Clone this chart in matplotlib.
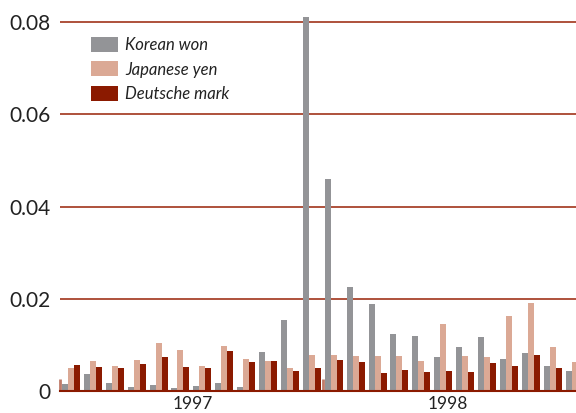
import numpy as np
import matplotlib
matplotlib.use('Agg')
import matplotlib.pyplot as plt

plt.rcParams['font.family'] = ['Lato', 'DejaVu Sans']

# monthly volatility, Jan 1997 - Dec 1998
won = [0.0015, 0.0037, 0.0018, 0.0009, 0.0013, 0.0007, 0.0011, 0.0017, 0.0009, 0.0085, 0.0154, 0.0811,
       0.0460, 0.0226, 0.0189, 0.0124, 0.0119, 0.0074, 0.0095, 0.0117, 0.0069, 0.0082, 0.0054, 0.0043]
yen = [0.0050, 0.0065, 0.0054, 0.0067, 0.0104, 0.0089, 0.0054, 0.0098, 0.0069, 0.0065, 0.0050, 0.0078,
       0.0078, 0.0076, 0.0076, 0.0076, 0.0065, 0.0145, 0.0076, 0.0074, 0.0163, 0.0191, 0.0095, 0.0063]
mark = [0.0056, 0.0052, 0.0050, 0.0059, 0.0074, 0.0052, 0.0050, 0.0087, 0.0063, 0.0065, 0.0043, 0.0050,
        0.0067, 0.0063, 0.0039, 0.0046, 0.0041, 0.0043, 0.0041, 0.0061, 0.0054, 0.0078, 0.0050, 0.0045]
years = ['1997', '1998']

gray = '#939497'
pink = '#dba995'
darkred = '#8b1a00'
gridc = '#a8432c'

x = np.arange(len(won))
w = 0.274

fig = plt.figure(figsize=(5.76, 4.13), dpi=100)
ax = fig.add_axes([60/576, 1 - 391/413, 516/576, 391/413])

ax.bar(x - w, won, w, color=gray, label='Korean won', zorder=3)
ax.bar(x, yen, w, color=pink, label='Japanese yen', zorder=3)
ax.bar(x + w, mark, w, color=darkred, label='Deutsche mark', zorder=3)

ax.set_xlim(-0.5, 23.06)
ax.set_ylim(0, 0.0848)

# y axis
ax.set_yticks([0, 0.02, 0.04, 0.06, 0.08])
ax.set_yticklabels(['0', '0.02', '0.04', '0.06', '0.08'])
ax.yaxis.grid(True, color=gridc, linewidth=1.3, zorder=0)
ax.tick_params(axis='y', length=0, pad=7, labelsize=15, labelcolor='#222222')
for gl in ax.yaxis.get_gridlines()[:1]:
    gl.set_visible(False)

# x axis: year separators as inward ticks, year names as minor ticks
ax.set_xticks([-0.5, 11.5])
ax.set_xticklabels(['', ''])
ax.set_xticks([5.55, 17.2], minor=True)
ax.set_xticklabels(years, minor=True)
ax.tick_params(axis='x', which='major', direction='in', length=9, width=2, color='#c07a68')
ax.tick_params(axis='x', which='minor', length=0, pad=3.5, labelsize=12.5, labelcolor='#222222')

for s in ['top', 'right', 'left']:
    ax.spines[s].set_visible(False)
ax.spines['bottom'].set_color(darkred)
ax.spines['bottom'].set_linewidth(1.5)
ax.spines['bottom'].set_zorder(4)

ax.legend(loc='upper left', bbox_to_anchor=(31/516, 1 - 37/391), frameon=False,
          prop={'style': 'italic', 'size': 12}, handlelength=1.6, handleheight=1.0,
          handletextpad=0.45, labelspacing=0.5, borderaxespad=0, borderpad=0,
          labelcolor='#222222')

fig.savefig('out.png', dpi=100)
